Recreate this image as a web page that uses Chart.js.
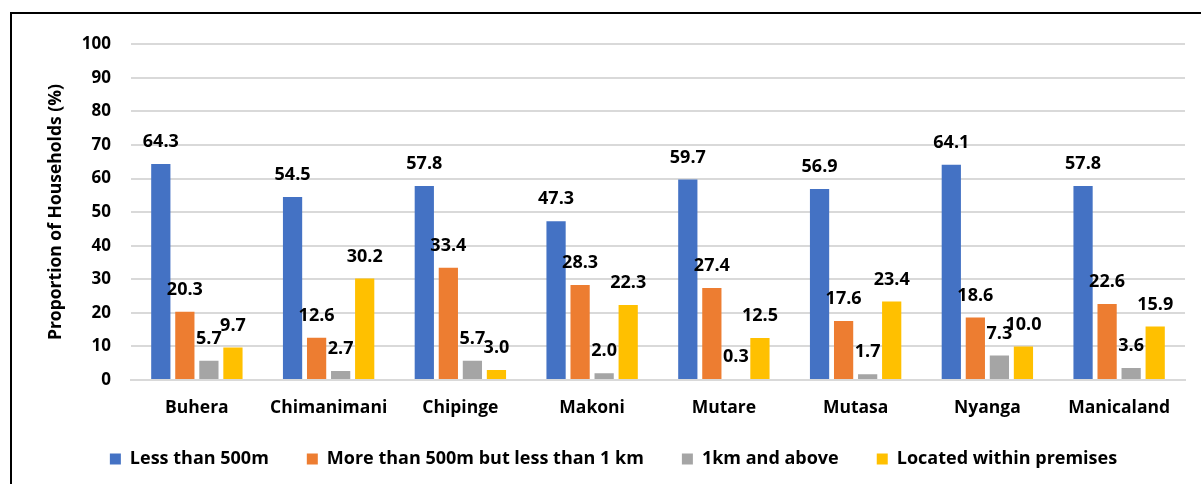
<!DOCTYPE html>
<html>
<head>
<meta charset="utf-8">
<script src="https://cdn.jsdelivr.net/npm/chart.js@4"></script>
<style>
  html, body { margin: 0; padding: 0; background: #fff; overflow: hidden; }
  #frame {
    position: absolute; left: 10px; top: 12px;
    width: 1189px; height: 480px;
    border: 2px solid #000;
  }
  #wrap { position: relative; width: 1189px; height: 470px; }
</style>
</head>
<body>
<div id="frame"><div id="wrap"><canvas id="waterChart"></canvas></div></div>
<script>
const districts = ["Buhera", "Chimanimani", "Chipinge", "Makoni", "Mutare", "Mutasa", "Nyanga", "Manicaland"];
const seriesNames = ["Less than 500m", "More than 500m but less than 1 km", "1km and above", "Located within premises"];
const lessThan500m = [64.3, 54.5, 57.8, 47.3, 59.7, 56.9, 64.1, 57.8];
const from500mTo1km = [20.3, 12.6, 33.4, 28.3, 27.4, 17.6, 18.6, 22.6];
const over1km = [5.7, 2.7, 5.7, 2.0, 0.3, 1.7, 7.3, 3.6];
const withinPremises = [9.7, 30.2, 3.0, 22.3, 12.5, 23.4, 10.0, 15.9];
const yTicks = [0, 10, 20, 30, 40, 50, 60, 70, 80, 90, 100];

const colors = ["#4472C4", "#ED7D31", "#A5A5A5", "#FFC000"];
const fontFamily = "'Open Sans', Lato, sans-serif";

// value labels above each bar
const barValues = {
    id: "barValues",
    beforeDraw(chart) {
        // the x axis box is kept short, so don't clip its labels to it
        chart.scales.x._computeLabelArea = () => undefined;
    },
    afterDatasetsDraw(chart) {
        const ctx = chart.ctx;
        ctx.save();
        ctx.font = "bold 18px " + fontFamily;
        ctx.fillStyle = "#000";
        ctx.textAlign = "center";
        ctx.textBaseline = "middle";
        chart.data.datasets.forEach((ds, i) => {
            chart.getDatasetMeta(i).data.forEach((bar, j) => {
                ctx.fillText(ds.data[j].toFixed(1), bar.x, bar.y - 22);
            });
        });
        ctx.restore();
    }
};

const allSeries = [lessThan500m, from500mTo1km, over1km, withinPremises];

new Chart(document.getElementById("waterChart"), {
    type: "bar",
    data: {
        labels: districts,
        datasets: allSeries.map((values, i) => ({
            label: seriesNames[i],
            data: values,
            backgroundColor: colors[i],
            borderWidth: 0,
            categoryPercentage: 0.73,
            barPercentage: 0.8
        }))
    },
    options: {
        responsive: true,
        maintainAspectRatio: false,
        animation: false,
        layout: { padding: { left: 30, right: 16, top: 0, bottom: 6 } },
        plugins: {
            tooltip: { enabled: false },
            legend: {
                position: "bottom",
                labels: {
                    boxWidth: 11,
                    boxHeight: 11,
                    padding: 38,
                    color: "#000",
                    font: { family: fontFamily, size: 18, weight: "bold" }
                }
            }
        },
        scales: {
            x: {
                grid: { display: false, drawTicks: false },
                border: { display: true, color: "#d9d9d9", width: 2 },
                ticks: {
                    padding: 18,
                    color: "#000",
                    font: { family: fontFamily, size: 17.5, weight: "bold" }
                },
                afterFit(scale) { scale.height = 32; }
            },
            y: {
                min: 0,
                max: 100,
                afterBuildTicks(scale) { scale.ticks = yTicks.map(v => ({ value: v })); },
                grid: { color: "#d9d9d9", lineWidth: 2, drawTicks: false },
                border: { display: false },
                ticks: {
                    padding: 20,
                    color: "#000",
                    font: { family: fontFamily, size: 17, weight: "bold" }
                },
                title: {
                    display: true,
                    text: "Proportion of Households (%)",
                    color: "#000",
                    padding: { top: 4, bottom: 0 },
                    font: { family: fontFamily, size: 17.5, weight: "bold" }
                },
                afterFit(scale) { scale.width = 89; }
            }
        }
    },
    plugins: [barValues]
});
</script>
</body>
</html>
